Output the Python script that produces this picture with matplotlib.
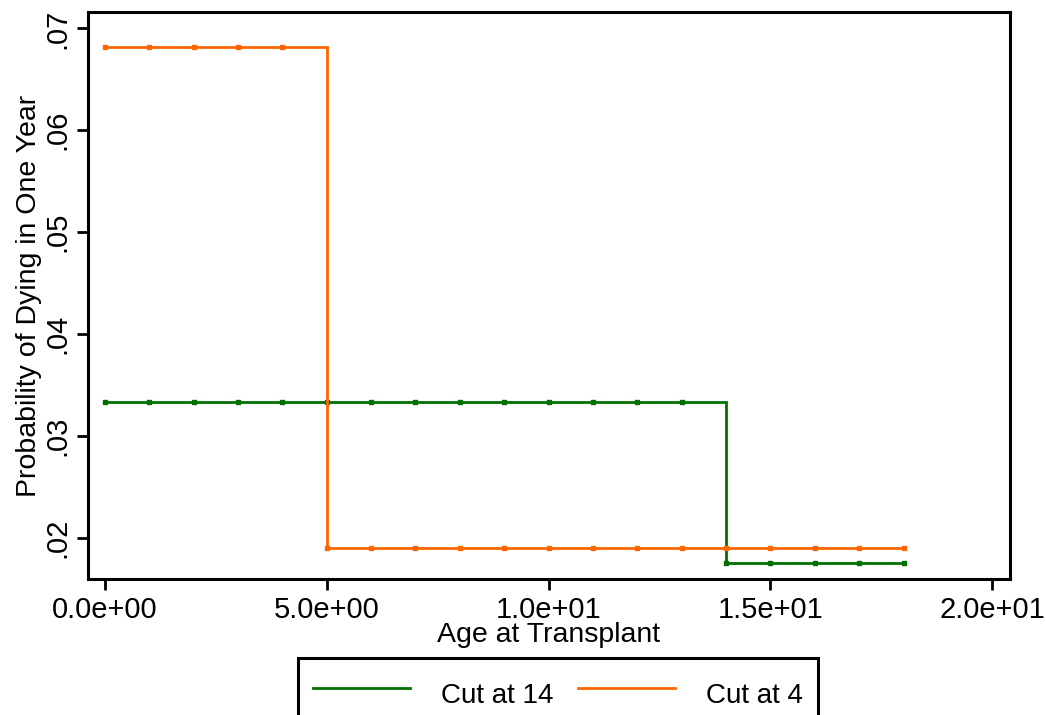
import matplotlib
matplotlib.use("Agg")
import matplotlib.pyplot as plt
import numpy as np

# Data
age = list(range(0, 19))
cut14_values = [0.0334] * 14 + [0.0176] * 5
cut4_values = [0.0682] * 5 + [0.0190] * 14
series_labels = ["Cut at 14", "Cut at 4"]
x_ticks = [0, 5, 10, 15, 20]
x_tick_labels = ["0.0e+00", "5.0e+00", "1.0e+01", "1.5e+01", "2.0e+01"]
y_ticks = [0.02, 0.03, 0.04, 0.05, 0.06, 0.07]
y_tick_labels = [".02", ".03", ".04", ".05", ".06", ".07"]

plt.rcParams['font.family'] = ['Liberation Sans', 'DejaVu Sans']
FS_TICK = 21
FS_LAB = 20.5
FS_LEG = 20

fig = plt.figure(figsize=(10.46, 7.15), dpi=100)
W, H = 1046, 715
ax = fig.add_axes([88 / W, 1 - 579 / H, (1010 - 88) / W, (579 - 12) / H])

green = "#007000"
orange = "#ff6600"
ax.plot(age, cut14_values, drawstyle="steps-post", color=green, lw=2.0,
        marker="s", markersize=2.3, label=series_labels[0], solid_joinstyle="miter")
ax.plot(age, cut4_values, drawstyle="steps-post", color=orange, lw=2.0,
        marker="s", markersize=2.3, label=series_labels[1], solid_joinstyle="miter")

ax.set_xlim(-0.38, 20.4)
ax.set_ylim(0.0160, 0.0716)
ax.set_xticks(x_ticks)
ax.set_xticklabels(x_tick_labels, fontsize=FS_TICK)
ax.set_yticks(y_ticks)
ax.set_yticklabels(y_tick_labels, fontsize=FS_TICK, rotation=90, va="center")

for s in ax.spines.values():
    s.set_linewidth(2.2)
ax.tick_params(axis="both", length=8, width=2.0, direction="out", pad=4)

ax.set_xlabel("Age at Transplant", fontsize=FS_LAB, labelpad=-1.5)
ax.set_ylabel("Probability of Dying in One Year", fontsize=FS_LAB, labelpad=1)

leg = fig.legend(loc="upper center", bbox_to_anchor=(558 / W, 1 - 658 / H),
                 ncol=2, fontsize=FS_LEG, frameon=True, fancybox=False,
                 edgecolor="black", borderpad=0.55, handlelength=3.5,
                 handleheight=1.9, handletextpad=1.1, columnspacing=0.9,
                 borderaxespad=0.0)
leg.get_frame().set_linewidth(2.2)
leg.get_frame().set_alpha(1)
for h in leg.legend_handles:
    h.set_marker("")

fig.savefig("out.png", dpi=100)
